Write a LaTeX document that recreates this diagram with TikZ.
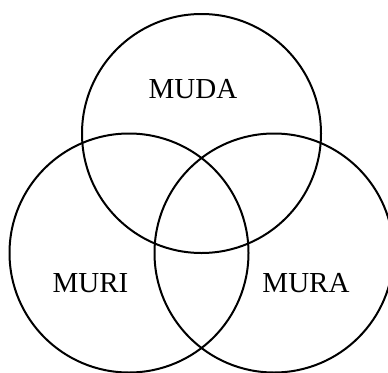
\documentclass[tikz,border=0pt]{standalone}
\usepackage{fontspec}
\setmainfont{Liberation Serif}
\begin{document}
\begin{tikzpicture}[x=1pt,y=-1pt,
  ring/.style={draw=black,line width=2pt,circle,minimum size=239pt,inner sep=0pt},
  lbl/.style={anchor=base,inner sep=0pt,font=\fontsize{29}{34}\selectfont}]
\useasboundingbox (0,0) rectangle (388,372);
\clip (0,0) rectangle (388,372);
\node[ring] (muda) at (201.5,133.5) {};
\node[ring] (muri) at (129,253) {};
\node[ring] (mura) at (274,253) {};
\node[lbl] (tmuda) at (193,98) {MUDA};
\node[lbl] (tmuri) at (90.5,292) {MURI};
\node[lbl] (tmura) at (306,292) {MURA};
\end{tikzpicture}
\end{document}
